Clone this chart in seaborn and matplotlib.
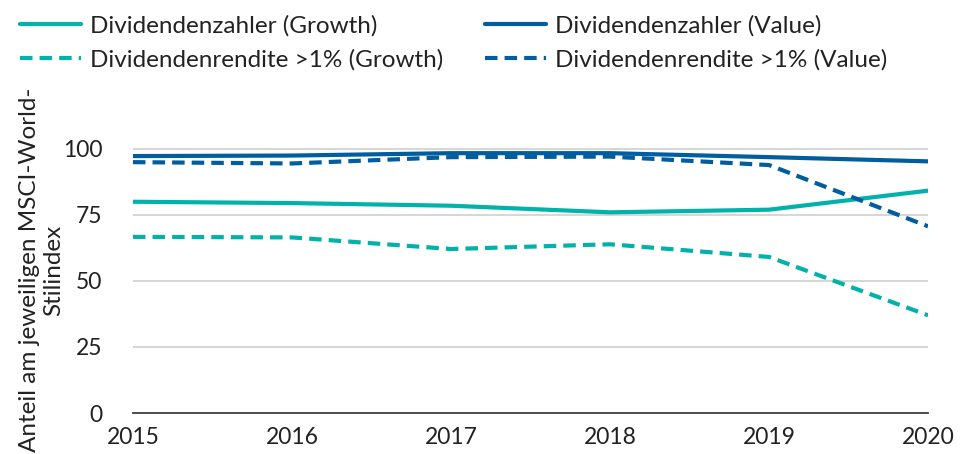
import matplotlib
matplotlib.use("Agg")
import matplotlib.pyplot as plt
import seaborn as sns
import pandas as pd
from matplotlib.lines import Line2D

years = [2015, 2016, 2017, 2018, 2019, 2020]
growth_payers = [80.0, 79.5, 78.5, 76.0, 77.0, 84.2]
value_payers = [97.3, 97.5, 98.4, 98.4, 96.9, 95.3]
growth_yield = [66.7, 66.5, 62.1, 63.9, 59.1, 37.0]
value_yield = [95.0, 94.5, 96.9, 97.1, 93.9, 70.7]

series_names = [
    "Dividendenzahler (Growth)",
    "Dividendenzahler (Value)",
    "Dividendenrendite >1% (Growth)",
    "Dividendenrendite >1% (Value)",
]
y_ticks = [0, 25, 50, 75, 100]
y_label = "Anteil am jeweiligen MSCI-World-\nStilindex"

teal = "#00B2A9"
blue = "#005DA0"

sns.set_theme(style="white")
plt.rcParams["font.family"] = ["Lato", "DejaVu Sans"]

df = pd.DataFrame({
    "Jahr": years * 4,
    "Wert": growth_payers + value_payers + growth_yield + value_yield,
    "Serie": sum([[n] * len(years) for n in series_names], []),
})

fig = plt.figure(figsize=(9.6, 4.54), dpi=100)
ax = fig.add_axes([0.1385, 0.0903, 0.9667 - 0.1385, 0.701 - 0.0903])

palette = {series_names[0]: teal, series_names[1]: blue,
           series_names[2]: teal, series_names[3]: blue}
dashes = {series_names[0]: "", series_names[1]: "",
          series_names[2]: (3, 1.7), series_names[3]: (3, 1.7)}

sns.lineplot(data=df, x="Jahr", y="Wert", hue="Serie", style="Serie",
             palette=palette, dashes=dashes, linewidth=3, ax=ax,
             hue_order=series_names, style_order=series_names, legend=False)

ax.set_xlim(2015, 2020)
ax.set_ylim(0, 105)
ax.set_yticks(y_ticks)
ax.set_xticks(years)
ax.set_xticklabels([str(y) for y in years])
ax.set_xlabel("")
ax.set_ylabel("")
ax.yaxis.grid(True, color="#D0D0D0", linewidth=1.2)
ax.xaxis.grid(False)
for s in ["top", "right", "left"]:
    ax.spines[s].set_visible(False)
ax.spines["bottom"].set_color("#404040")
ax.spines["bottom"].set_linewidth(1.3)
ax.tick_params(axis="both", length=0, labelsize=16.5, colors="#222222")
ax.tick_params(axis="x", pad=10)
ax.tick_params(axis="y", pad=22)
ax.set_axisbelow(True)

fig.text(0.043, 0.405, y_label, rotation=90, ha="center", va="center",
         fontsize=17.5, color="#222222", multialignment="center",
         linespacing=1.2)

handles = [
    Line2D([], [], color=teal, lw=3),
    Line2D([], [], color=blue, lw=3),
    Line2D([], [], color=teal, lw=3, ls=(0, (3, 1.7))),
    Line2D([], [], color=blue, lw=3, ls=(0, (3, 1.7))),
]
order = [0, 2, 1, 3]
fig.legend([handles[i] for i in order], [series_names[i] for i in order],
           loc="upper left", bbox_to_anchor=(-0.002, 1.015), ncol=2, frameon=False,
           fontsize=17.5, handlelength=2.5, handletextpad=0.4, columnspacing=1.7,
           labelspacing=0.5, labelcolor="#222222")

fig.savefig("out.png", dpi=100)
